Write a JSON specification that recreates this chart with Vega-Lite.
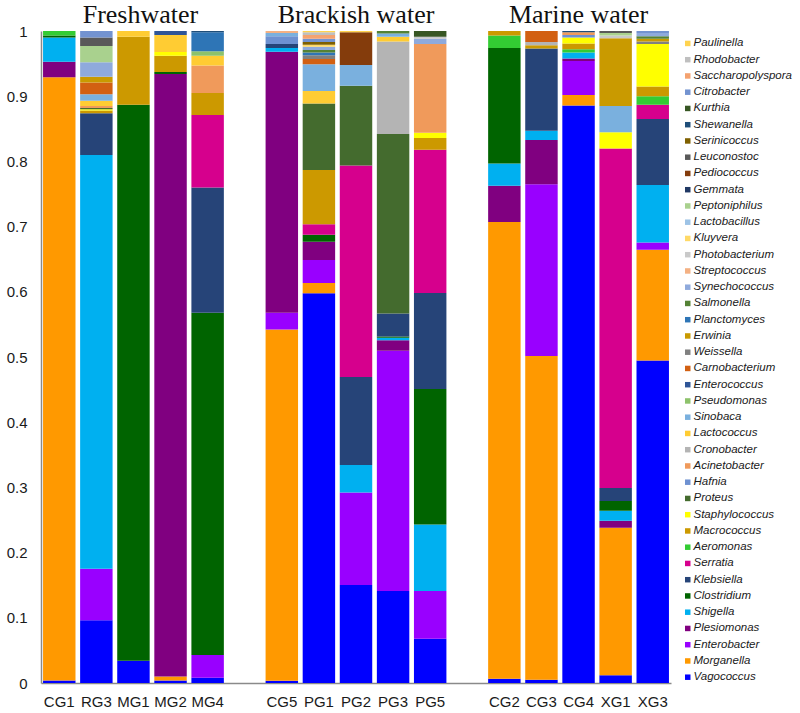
{
  "$schema": "https://vega.github.io/schema/vega-lite/v6.json",
  "width": 630,
  "height": 652,
  "autosize": {"type": "none"},
  "padding": {"left": 41, "top": 31, "right": 129, "bottom": 30},
  "background": "white",
  "config": {"view": {"stroke": null}, "axis": {"grid": false}},
  "datasets": {
    "genera": [
      {"genus": "Vagococcus", "k": 1}, {"genus": "Morganella", "k": 2}, {"genus": "Enterobacter", "k": 3},
      {"genus": "Plesiomonas", "k": 4}, {"genus": "Shigella", "k": 5}, {"genus": "Clostridium", "k": 6},
      {"genus": "Klebsiella", "k": 7}, {"genus": "Serratia", "k": 8}, {"genus": "Aeromonas", "k": 9},
      {"genus": "Macrococcus", "k": 10}, {"genus": "Staphylococcus", "k": 11}, {"genus": "Proteus", "k": 12},
      {"genus": "Hafnia", "k": 13}, {"genus": "Acinetobacter", "k": 14}, {"genus": "Cronobacter", "k": 15},
      {"genus": "Lactococcus", "k": 16}, {"genus": "Sinobaca", "k": 17}, {"genus": "Pseudomonas", "k": 18},
      {"genus": "Enterococcus", "k": 19}, {"genus": "Carnobacterium", "k": 20}, {"genus": "Weissella", "k": 21},
      {"genus": "Erwinia", "k": 22}, {"genus": "Planctomyces", "k": 23}, {"genus": "Salmonella", "k": 24},
      {"genus": "Synechococcus", "k": 25}, {"genus": "Streptococcus", "k": 26}, {"genus": "Photobacterium", "k": 27},
      {"genus": "Kluyvera", "k": 28}, {"genus": "Lactobacillus", "k": 29}, {"genus": "Peptoniphilus", "k": 30},
      {"genus": "Gemmata", "k": 31}, {"genus": "Pediococcus", "k": 32}, {"genus": "Leuconostoc", "k": 33},
      {"genus": "Serinicoccus", "k": 34}, {"genus": "Shewanella", "k": 35}, {"genus": "Kurthia", "k": 36},
      {"genus": "Citrobacter", "k": 37}, {"genus": "Saccharopolyspora", "k": 38}, {"genus": "Rhodobacter", "k": 39},
      {"genus": "Paulinella", "k": 40}
    ],
    "titles": [
      {"sample": "MG1", "group": "Freshwater"},
      {"sample": "PG2", "group": "Brackish water"},
      {"sample": "CG4", "group": "Marine water"}
    ],
    "abund": [
      {"sample": "CG1", "genus": "Vagococcus", "value": 0.004},
      {"sample": "CG1", "genus": "Morganella", "value": 0.924},
      {"sample": "CG1", "genus": "Plesiomonas", "value": 0.024},
      {"sample": "CG1", "genus": "Shigella", "value": 0.037},
      {"sample": "CG1", "genus": "Clostridium", "value": 0.003},
      {"sample": "CG1", "genus": "Aeromonas", "value": 0.007},

      {"sample": "RG3", "genus": "Vagococcus", "value": 0.096},
      {"sample": "RG3", "genus": "Enterobacter", "value": 0.079},
      {"sample": "RG3", "genus": "Shigella", "value": 0.634},
      {"sample": "RG3", "genus": "Klebsiella", "value": 0.064},
      {"sample": "RG3", "genus": "Macrococcus", "value": 0.004},
      {"sample": "RG3", "genus": "Staphylococcus", "value": 0.002},
      {"sample": "RG3", "genus": "Proteus", "value": 0.002},
      {"sample": "RG3", "genus": "Acinetobacter", "value": 0.003},
      {"sample": "RG3", "genus": "Lactococcus", "value": 0.008},
      {"sample": "RG3", "genus": "Sinobaca", "value": 0.010},
      {"sample": "RG3", "genus": "Carnobacterium", "value": 0.018},
      {"sample": "RG3", "genus": "Erwinia", "value": 0.009},
      {"sample": "RG3", "genus": "Synechococcus", "value": 0.022},
      {"sample": "RG3", "genus": "Peptoniphilus", "value": 0.025},
      {"sample": "RG3", "genus": "Leuconostoc", "value": 0.013},
      {"sample": "RG3", "genus": "Citrobacter", "value": 0.010},

      {"sample": "MG1", "genus": "Vagococcus", "value": 0.034},
      {"sample": "MG1", "genus": "Clostridium", "value": 0.852},
      {"sample": "MG1", "genus": "Macrococcus", "value": 0.104},
      {"sample": "MG1", "genus": "Lactococcus", "value": 0.009},

      {"sample": "MG2", "genus": "Vagococcus", "value": 0.004},
      {"sample": "MG2", "genus": "Morganella", "value": 0.006},
      {"sample": "MG2", "genus": "Plesiomonas", "value": 0.923},
      {"sample": "MG2", "genus": "Clostridium", "value": 0.003},
      {"sample": "MG2", "genus": "Macrococcus", "value": 0.025},
      {"sample": "MG2", "genus": "Staphylococcus", "value": 0.006},
      {"sample": "MG2", "genus": "Lactococcus", "value": 0.026},
      {"sample": "MG2", "genus": "Enterococcus", "value": 0.006},

      {"sample": "MG4", "genus": "Vagococcus", "value": 0.008},
      {"sample": "MG4", "genus": "Enterobacter", "value": 0.035},
      {"sample": "MG4", "genus": "Clostridium", "value": 0.525},
      {"sample": "MG4", "genus": "Klebsiella", "value": 0.192},
      {"sample": "MG4", "genus": "Serratia", "value": 0.111},
      {"sample": "MG4", "genus": "Macrococcus", "value": 0.034},
      {"sample": "MG4", "genus": "Acinetobacter", "value": 0.042},
      {"sample": "MG4", "genus": "Lactococcus", "value": 0.015},
      {"sample": "MG4", "genus": "Pseudomonas", "value": 0.007},
      {"sample": "MG4", "genus": "Planctomyces", "value": 0.029},
      {"sample": "MG4", "genus": "Shewanella", "value": 0.002},

      {"sample": "CG5", "genus": "Vagococcus", "value": 0.0035},
      {"sample": "CG5", "genus": "Morganella", "value": 0.5385},
      {"sample": "CG5", "genus": "Enterobacter", "value": 0.026},
      {"sample": "CG5", "genus": "Plesiomonas", "value": 0.400},
      {"sample": "CG5", "genus": "Shigella", "value": 0.006},
      {"sample": "CG5", "genus": "Klebsiella", "value": 0.006},
      {"sample": "CG5", "genus": "Hafnia", "value": 0.012},
      {"sample": "CG5", "genus": "Sinobaca", "value": 0.005},
      {"sample": "CG5", "genus": "Streptococcus", "value": 0.003},

      {"sample": "PG1", "genus": "Vagococcus", "value": 0.597},
      {"sample": "PG1", "genus": "Morganella", "value": 0.016},
      {"sample": "PG1", "genus": "Enterobacter", "value": 0.035},
      {"sample": "PG1", "genus": "Plesiomonas", "value": 0.028},
      {"sample": "PG1", "genus": "Clostridium", "value": 0.011},
      {"sample": "PG1", "genus": "Serratia", "value": 0.016},
      {"sample": "PG1", "genus": "Macrococcus", "value": 0.083},
      {"sample": "PG1", "genus": "Proteus", "value": 0.102},
      {"sample": "PG1", "genus": "Lactococcus", "value": 0.019},
      {"sample": "PG1", "genus": "Sinobaca", "value": 0.041},
      {"sample": "PG1", "genus": "Carnobacterium", "value": 0.008},
      {"sample": "PG1", "genus": "Weissella", "value": 0.006},
      {"sample": "PG1", "genus": "Planctomyces", "value": 0.004},
      {"sample": "PG1", "genus": "Salmonella", "value": 0.004},
      {"sample": "PG1", "genus": "Synechococcus", "value": 0.005},
      {"sample": "PG1", "genus": "Kluyvera", "value": 0.003},
      {"sample": "PG1", "genus": "Serinicoccus", "value": 0.004},
      {"sample": "PG1", "genus": "Citrobacter", "value": 0.005},
      {"sample": "PG1", "genus": "Saccharopolyspora", "value": 0.006},
      {"sample": "PG1", "genus": "Rhodobacter", "value": 0.004},
      {"sample": "PG1", "genus": "Paulinella", "value": 0.002},

      {"sample": "PG2", "genus": "Vagococcus", "value": 0.150},
      {"sample": "PG2", "genus": "Enterobacter", "value": 0.142},
      {"sample": "PG2", "genus": "Shigella", "value": 0.042},
      {"sample": "PG2", "genus": "Klebsiella", "value": 0.135},
      {"sample": "PG2", "genus": "Serratia", "value": 0.324},
      {"sample": "PG2", "genus": "Proteus", "value": 0.122},
      {"sample": "PG2", "genus": "Sinobaca", "value": 0.032},
      {"sample": "PG2", "genus": "Pediococcus", "value": 0.050},
      {"sample": "PG2", "genus": "Paulinella", "value": 0.002},

      {"sample": "PG3", "genus": "Vagococcus", "value": 0.141},
      {"sample": "PG3", "genus": "Enterobacter", "value": 0.368},
      {"sample": "PG3", "genus": "Plesiomonas", "value": 0.016},
      {"sample": "PG3", "genus": "Shigella", "value": 0.004},
      {"sample": "PG3", "genus": "Clostridium", "value": 0.002},
      {"sample": "PG3", "genus": "Klebsiella", "value": 0.035},
      {"sample": "PG3", "genus": "Proteus", "value": 0.275},
      {"sample": "PG3", "genus": "Cronobacter", "value": 0.142},
      {"sample": "PG3", "genus": "Lactococcus", "value": 0.007},
      {"sample": "PG3", "genus": "Sinobaca", "value": 0.005},
      {"sample": "PG3", "genus": "Salmonella", "value": 0.004},

      {"sample": "PG5", "genus": "Vagococcus", "value": 0.068},
      {"sample": "PG5", "genus": "Enterobacter", "value": 0.073},
      {"sample": "PG5", "genus": "Shigella", "value": 0.102},
      {"sample": "PG5", "genus": "Clostridium", "value": 0.208},
      {"sample": "PG5", "genus": "Klebsiella", "value": 0.147},
      {"sample": "PG5", "genus": "Serratia", "value": 0.220},
      {"sample": "PG5", "genus": "Macrococcus", "value": 0.018},
      {"sample": "PG5", "genus": "Staphylococcus", "value": 0.008},
      {"sample": "PG5", "genus": "Acinetobacter", "value": 0.136},
      {"sample": "PG5", "genus": "Synechococcus", "value": 0.008},
      {"sample": "PG5", "genus": "Photobacterium", "value": 0.003},
      {"sample": "PG5", "genus": "Kurthia", "value": 0.009},

      {"sample": "CG2", "genus": "Vagococcus", "value": 0.0066},
      {"sample": "CG2", "genus": "Morganella", "value": 0.700},
      {"sample": "CG2", "genus": "Plesiomonas", "value": 0.0555},
      {"sample": "CG2", "genus": "Shigella", "value": 0.034},
      {"sample": "CG2", "genus": "Clostridium", "value": 0.177},
      {"sample": "CG2", "genus": "Aeromonas", "value": 0.019},
      {"sample": "CG2", "genus": "Macrococcus", "value": 0.007},

      {"sample": "CG3", "genus": "Vagococcus", "value": 0.005},
      {"sample": "CG3", "genus": "Morganella", "value": 0.496},
      {"sample": "CG3", "genus": "Enterobacter", "value": 0.263},
      {"sample": "CG3", "genus": "Plesiomonas", "value": 0.068},
      {"sample": "CG3", "genus": "Shigella", "value": 0.014},
      {"sample": "CG3", "genus": "Klebsiella", "value": 0.126},
      {"sample": "CG3", "genus": "Macrococcus", "value": 0.005},
      {"sample": "CG3", "genus": "Cronobacter", "value": 0.005},
      {"sample": "CG3", "genus": "Carnobacterium", "value": 0.017},

      {"sample": "CG4", "genus": "Vagococcus", "value": 0.885},
      {"sample": "CG4", "genus": "Morganella", "value": 0.016},
      {"sample": "CG4", "genus": "Enterobacter", "value": 0.052},
      {"sample": "CG4", "genus": "Plesiomonas", "value": 0.004},
      {"sample": "CG4", "genus": "Shigella", "value": 0.009},
      {"sample": "CG4", "genus": "Aeromonas", "value": 0.005},
      {"sample": "CG4", "genus": "Macrococcus", "value": 0.009},
      {"sample": "CG4", "genus": "Staphylococcus", "value": 0.009},
      {"sample": "CG4", "genus": "Hafnia", "value": 0.004},
      {"sample": "CG4", "genus": "Acinetobacter", "value": 0.004},
      {"sample": "CG4", "genus": "Shewanella", "value": 0.002},

      {"sample": "XG1", "genus": "Vagococcus", "value": 0.0117},
      {"sample": "XG1", "genus": "Morganella", "value": 0.226},
      {"sample": "XG1", "genus": "Plesiomonas", "value": 0.011},
      {"sample": "XG1", "genus": "Shigella", "value": 0.015},
      {"sample": "XG1", "genus": "Clostridium", "value": 0.015},
      {"sample": "XG1", "genus": "Klebsiella", "value": 0.020},
      {"sample": "XG1", "genus": "Serratia", "value": 0.520},
      {"sample": "XG1", "genus": "Staphylococcus", "value": 0.025},
      {"sample": "XG1", "genus": "Sinobaca", "value": 0.040},
      {"sample": "XG1", "genus": "Erwinia", "value": 0.104},
      {"sample": "XG1", "genus": "Photobacterium", "value": 0.004},
      {"sample": "XG1", "genus": "Peptoniphilus", "value": 0.004},
      {"sample": "XG1", "genus": "Leuconostoc", "value": 0.003},

      {"sample": "XG3", "genus": "Vagococcus", "value": 0.494},
      {"sample": "XG3", "genus": "Morganella", "value": 0.170},
      {"sample": "XG3", "genus": "Enterobacter", "value": 0.011},
      {"sample": "XG3", "genus": "Shigella", "value": 0.088},
      {"sample": "XG3", "genus": "Klebsiella", "value": 0.101},
      {"sample": "XG3", "genus": "Serratia", "value": 0.022},
      {"sample": "XG3", "genus": "Aeromonas", "value": 0.013},
      {"sample": "XG3", "genus": "Macrococcus", "value": 0.015},
      {"sample": "XG3", "genus": "Staphylococcus", "value": 0.065},
      {"sample": "XG3", "genus": "Weissella", "value": 0.004},
      {"sample": "XG3", "genus": "Erwinia", "value": 0.004},
      {"sample": "XG3", "genus": "Salmonella", "value": 0.004},
      {"sample": "XG3", "genus": "Synechococcus", "value": 0.005},
      {"sample": "XG3", "genus": "Citrobacter", "value": 0.003}
    ]
  },
  "layer": [
    {
      "data": {"name": "abund"},
      "transform": [
        {"lookup": "genus", "from": {"data": {"name": "genera"}, "key": "genus", "fields": ["k"]}}
      ],
      "mark": {"type": "bar", "strokeWidth": 0},
      "encoding": {
        "x": {
          "field": "sample", "type": "nominal",
          "scale": {
            "domain": ["CG1", "RG3", "MG1", "MG2", "MG4", "gap1", "CG5", "PG1", "PG2", "PG3", "PG5", "gap2", "CG2", "CG3", "CG4", "XG1", "XG3"],
            "paddingInner": 0.125, "paddingOuter": 0.055
          },
          "axis": {
            "title": null, "labelAngle": 0, "ticks": false,
            "labelExpr": "indexof(datum.label, 'gap') >= 0 ? '' : datum.label",
            "labelFont": "Liberation Sans", "labelFontSize": 15, "labelColor": "#1a1a1a",
            "labelPadding": 11, "domainColor": "#8a8a8a", "domainWidth": 1.5
          }
        },
        "y": {
          "field": "value", "type": "quantitative", "stack": "normalize",
          "scale": {"domain": [0, 1], "nice": false},
          "axis": {
            "title": null, "ticks": false, "grid": false,
            "values": [0, 0.1, 0.2, 0.3, 0.4, 0.5, 0.6, 0.7, 0.8, 0.9, 1],
            "labelExpr": "format(datum.value, '.1~f')",
            "labelFlush": false, "labelOverlap": false,
            "labelFont": "Liberation Sans", "labelFontSize": 15, "labelColor": "#1a1a1a",
            "labelPadding": 14, "domainColor": "#8a8a8a", "domainWidth": 1.5
          }
        },
        "color": {
          "field": "genus", "type": "nominal",
          "scale": {
            "domain": ["Paulinella", "Rhodobacter", "Saccharopolyspora", "Citrobacter", "Kurthia", "Shewanella", "Serinicoccus", "Leuconostoc", "Pediococcus", "Gemmata", "Peptoniphilus", "Lactobacillus", "Kluyvera", "Photobacterium", "Streptococcus", "Synechococcus", "Salmonella", "Planctomyces", "Erwinia", "Weissella", "Carnobacterium", "Enterococcus", "Pseudomonas", "Sinobaca", "Lactococcus", "Cronobacter", "Acinetobacter", "Hafnia", "Proteus", "Staphylococcus", "Macrococcus", "Aeromonas", "Serratia", "Klebsiella", "Clostridium", "Shigella", "Plesiomonas", "Enterobacter", "Morganella", "Vagococcus"],
            "range": ["#FFD34F", "#BFBFBF", "#F4A26F", "#7393D0", "#375623", "#1F4E79", "#7F6000", "#595959", "#843C0C", "#203864", "#A9D18E", "#9DC3E6", "#FFD966", "#C9C9C9", "#F4B183", "#8FAADC", "#548235", "#2E75B6", "#C99A00", "#808080", "#D26012", "#2F5597", "#8DC26B", "#7AB0DE", "#FFCC33", "#B4B4B4", "#F09A5B", "#6E91D1", "#446B2E", "#FFFF00", "#CC9900", "#33CC33", "#D6008D", "#264478", "#006400", "#00B0F0", "#800080", "#9900FF", "#FF9900", "#0000FF"]
          },
          "legend": {
            "title": null, "orient": "none", "legendX": 641, "legendY": 6.7,
            "symbolType": "square", "symbolSize": 30, "symbolStrokeWidth": 0, "symbolOpacity": 1,
            "labelFont": "Liberation Sans", "labelFontStyle": "italic", "labelFontSize": 11.5,
            "labelColor": "#1a1a1a", "labelOffset": 0, "rowPadding": 3.25, "symbolLimit": 0,
            "labelLimit": 200, "padding": 0
          }
        },
        "order": {"field": "k", "type": "quantitative", "sort": "ascending"}
      }
    },
    {
      "data": {"name": "titles"},
      "transform": [{"filter": "datum.group === 'Freshwater'"}],
      "mark": {"type": "text", "font": "Liberation Serif", "fontSize": 26, "color": "#111", "baseline": "alphabetic", "align": "center", "dx": 7},
      "encoding": {
        "x": {"field": "sample", "type": "nominal"},
        "y": {"datum": 1.012, "type": "quantitative"},
        "text": {"field": "group"}
      }
    },
    {
      "data": {"name": "titles"},
      "transform": [{"filter": "datum.group !== 'Freshwater'"}],
      "mark": {"type": "text", "font": "Liberation Serif", "fontSize": 26, "color": "#111", "baseline": "alphabetic", "align": "center"},
      "encoding": {
        "x": {"field": "sample", "type": "nominal"},
        "y": {"datum": 1.012, "type": "quantitative"},
        "text": {"field": "group"}
      }
    }
  ]
}
